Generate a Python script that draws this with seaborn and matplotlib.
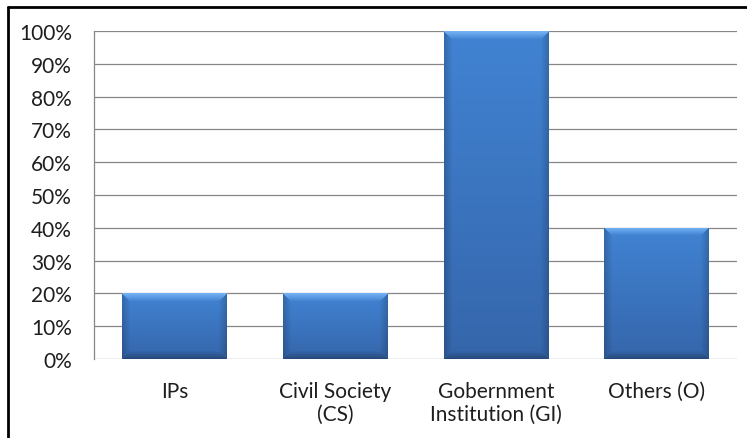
import numpy as np
import pandas as pd
import matplotlib
matplotlib.use("Agg")
import matplotlib.pyplot as plt
from matplotlib.lines import Line2D
from matplotlib.colors import to_rgb
import seaborn as sns

# Share of respondents by type of organisation
categories = ["IPs", "Civil Society\n(CS)", "Gobernment\nInstitution (GI)", "Others (O)"]
values = [20, 20, 100, 40]
y_ticks = [0, 10, 20, 30, 40, 50, 60, 70, 80, 90, 100]
y_tick_labels = [f"{v}%" for v in y_ticks]

sns.set_theme(style="white")
plt.rcParams["font.family"] = ["Lato", "DejaVu Sans"]

W_PX, H_PX, DPI = 747, 439, 100
fig = plt.figure(figsize=(W_PX / DPI, H_PX / DPI), dpi=DPI)
ax_left, ax_right, ax_top, ax_bottom = 94, 737, 32, 360
ax = fig.add_axes([ax_left / W_PX, 1 - ax_bottom / H_PX,
                   (ax_right - ax_left) / W_PX, (ax_bottom - ax_top) / H_PX])

df = pd.DataFrame({"category": categories, "value": values})
sns.barplot(data=df, x="category", y="value", ax=ax, width=0.65,
            color="#3d7fd0", edgecolor="none", saturation=1, zorder=3)

ax.set_ylim(0, 100)
ax.set_xlim(-0.5, len(categories) - 0.5)
ax.set_yticks(y_ticks)
ax.set_yticklabels(y_tick_labels)
ax.set_xlabel("")
ax.set_ylabel("")
ax.yaxis.grid(True, color="#878787", linewidth=0.9, zorder=0)
ax.set_axisbelow(True)
for side in ["top", "right", "bottom"]:
    ax.spines[side].set_visible(False)
ax.spines["left"].set_color("#878787")
ax.spines["left"].set_linewidth(0.9)
ax.tick_params(axis="y", length=0, pad=16, labelsize=15, labelcolor="#1e1e1e")
ax.tick_params(axis="x", length=0, pad=16, labelsize=15, labelcolor="#1e1e1e")
for lbl in ax.get_xticklabels():
    lbl.set_linespacing(1.15)


def bevel_image(w, h):
    """RGBA image of a bevelled blue bar, w x h pixels."""
    top = np.array(to_rgb("#4183d3"))
    bot = np.array(to_rgb("#3566ab"))
    light = np.array(to_rgb("#74b2f4"))
    b = 8.0
    ii, jj = np.mgrid[0:h, 0:w].astype(float)
    t = ii / max(h - 1, 1)
    img = top[None, None, :] * (1 - t[..., None]) + bot[None, None, :] * t[..., None]
    dl, dr = jj, (w - 1) - jj
    dt, db = ii, (h - 1) - ii
    m = np.minimum(np.minimum(dl, dr), np.minimum(dt, db))
    f = np.clip(m / b, 0, 1)[..., None]
    top_mask = (dt <= np.minimum(dl, dr)) & (dt <= db) & (m < b)
    side_mask = ((np.minimum(dl, dr) < dt) & (np.minimum(dl, dr) <= db)) & (m < b)
    bot_mask = (db < np.minimum(dl, dr)) & (db < dt) & (m < b)
    out = img.copy()
    lit = light * (1 - f) + img * f
    dark_side = img * (0.82 + 0.18 * f)
    dark_bot = img * (0.72 + 0.28 * f)
    out = np.where(top_mask[..., None], lit, out)
    out = np.where(side_mask[..., None], dark_side, out)
    out = np.where(bot_mask[..., None], dark_bot, out)
    alpha = np.ones((h, w, 1))
    return np.concatenate([np.clip(out, 0, 1), alpha], axis=2)


px_per_x = (ax_right - ax_left) / (len(categories))
px_per_y = (ax_bottom - ax_top) / 100.0
for patch in ax.patches:
    x0, y0 = patch.get_x(), patch.get_y()
    w, h = patch.get_width(), patch.get_height()
    if h <= 0:
        continue
    wp = max(int(round(w * px_per_x)), 2)
    hp = max(int(round(h * px_per_y)), 2)
    im = ax.imshow(bevel_image(wp, hp), extent=(x0, x0 + w, y0, y0 + h),
                   aspect="auto", interpolation="bilinear", zorder=4)
    im.set_clip_path(patch)
ax.set_xlim(-0.5, len(categories) - 0.5)
ax.set_ylim(0, 100)

# Frame lines on the left and top of the figure
fig.add_artist(Line2D([8 / W_PX, 8 / W_PX], [0, 1 - 8 / H_PX],
                      transform=fig.transFigure, color="black", linewidth=2.0))
fig.add_artist(Line2D([8 / W_PX, 1], [1 - 8 / H_PX, 1 - 8 / H_PX],
                      transform=fig.transFigure, color="black", linewidth=2.0))

fig.savefig("out.png", dpi=DPI, facecolor="white")
